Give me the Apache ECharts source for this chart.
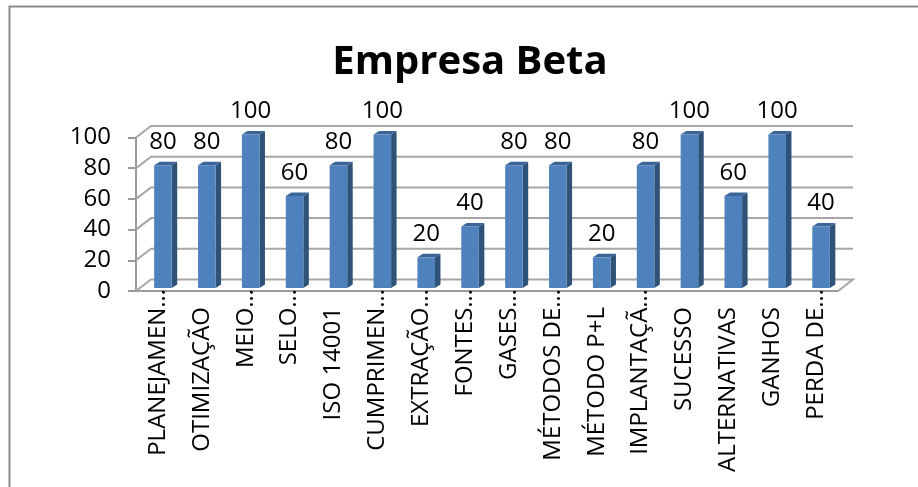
<!DOCTYPE html>
<html>
<head>
<meta charset="utf-8">
<title>Empresa Beta</title>
<script src="https://cdn.jsdelivr.net/npm/echarts@6/dist/echarts.min.js"></script>
<style>
  html, body { margin: 0; padding: 0; background: #fff; }
  #box { width: 918px; height: 487px; }
</style>
</head>
<body>
<div id="box"></div>
<script>
var categories = ['PLANEJAMEN…', 'OTIMIZAÇÃO', 'MEIO…', 'SELO…', 'ISO 14001', 'CUMPRIMEN…', 'EXTRAÇÃO…', 'FONTES…',
  'GASES…', 'MÉTODOS DE…', 'MÉTODO P+L', 'IMPLANTAÇÃ…', 'SUCESSO', 'ALTERNATIVAS', 'GANHOS', 'PERDA DE…'];
var values = [80, 80, 100, 60, 80, 100, 20, 40, 80, 80, 20, 80, 100, 60, 100, 40];
var yTicks = [0, 20, 40, 60, 80, 100];

var font = '"Open Sans"';
var wallDx = 15, wallDy = -11.5;   // depth of the 3d box
var barDx = 5, barDy = -3;         // bars stand a bit inside it
var sideDx = 5.5, sideDy = -3.5;

var myChart = echarts.init(document.getElementById('box'));

var option = {
  backgroundColor: '#fff',
  animation: false,
  title: {
    text: 'Empresa Beta',
    left: 465,
    top: 38,
    textAlign: 'center',
    textStyle: { fontFamily: font, fontSize: 40, fontWeight: 'bold', color: '#000' }
  },
  graphic: [{
    // the frame is only visible on the left and top
    type: 'polyline',
    shape: { points: [[9.5, 487], [9.5, 6.5], [918, 6.5]] },
    style: { fill: 'none', stroke: '#8c8c8c', lineWidth: 2 },
    silent: true,
    z: -1
  }],
  grid: { left: 136, top: 137.5, width: 702, height: 153.5 },
  xAxis: {
    type: 'category',
    // labels cut with an ellipsis start at the axis, the others leave room for it
    data: categories.map(function (c) {
      return c.slice(-1) === '…' ? c : { value: c, textStyle: { padding: [4, 18, 0, 0] } };
    }),
    axisLine: { lineStyle: { color: '#9a9a9a', width: 2 } },
    axisTick: { alignWithLabel: false, length: 7, lineStyle: { color: '#9a9a9a', width: 2 } },
    axisLabel: { interval: 0, rotate: 90, margin: -2, padding: [4, 0, 0, 0], fontFamily: font, fontSize: 24, color: '#000', hideOverlap: false }
  },
  yAxis: {
    type: 'value',
    min: 0,
    max: 100,
    interval: 20,
    splitLine: { show: false },
    axisLine: { show: true, lineStyle: { color: '#9a9a9a', width: 2 } },
    axisTick: { show: true, length: 8, lineStyle: { color: '#9a9a9a', width: 2 } },
    axisLabel: { margin: 25, padding: [4, 0, 0, 0], fontFamily: font, fontSize: 24, color: '#000' }
  },
  series: [
    {
      // gridlines of the side and back wall
      type: 'custom',
      clip: false,
      z: 1,
      data: yTicks.map(function (v) { return [0, v]; }),
      renderItem: function (params, api) {
        var cs = params.coordSys;
        var y = api.coord([0, api.value(1)])[1];
        var x0 = cs.x, x1 = cs.x + cs.width;
        var points = [[x0, y], [x0 + wallDx, y + wallDy], [x1 + wallDx, y + wallDy]];
        if (api.value(1) === 0) {
          points.push([x1, y]);
        }
        return {
          type: 'polyline',
          shape: { points: points },
          style: { fill: 'none', stroke: '#a6a6a6', lineWidth: 2 }
        };
      }
    },
    {
      type: 'custom',
      clip: false,
      z: 2,
      data: values.map(function (v, i) { return [i, v]; }),
      renderItem: function (params, api) {
        var top = api.coord([api.value(0), api.value(1)]);
        var base = api.coord([api.value(0), 0]);
        var w = api.size([1, 0])[0] * 0.4;
        var l = top[0] - w / 2 + barDx;
        var r = l + w;
        var t = top[1] + barDy;
        var b = base[1] + barDy;
        return {
          type: 'group',
          children: [
            {
              type: 'polygon',
              shape: { points: [[l, t], [r, t], [r + sideDx, t + sideDy], [l + sideDx, t + sideDy]] },
              style: { fill: '#3a6596' }
            },
            {
              type: 'polygon',
              shape: { points: [[r, t], [r + sideDx, t + sideDy], [r + sideDx, b + sideDy], [r, b]] },
              style: { fill: '#2f5279' }
            },
            {
              type: 'rect',
              shape: { x: l, y: t, width: w, height: b - t },
              style: { fill: '#4f81bd' }
            },
            {
              type: 'text',
              style: {
                x: l + w / 2,
                y: t - 23,
                text: String(api.value(1)),
                fill: '#000',
                font: '24px ' + font,
                align: 'center',
                verticalAlign: 'middle'
              }
            }
          ]
        };
      }
    }
  ]
};

myChart.setOption(option);
</script>
</body>
</html>
